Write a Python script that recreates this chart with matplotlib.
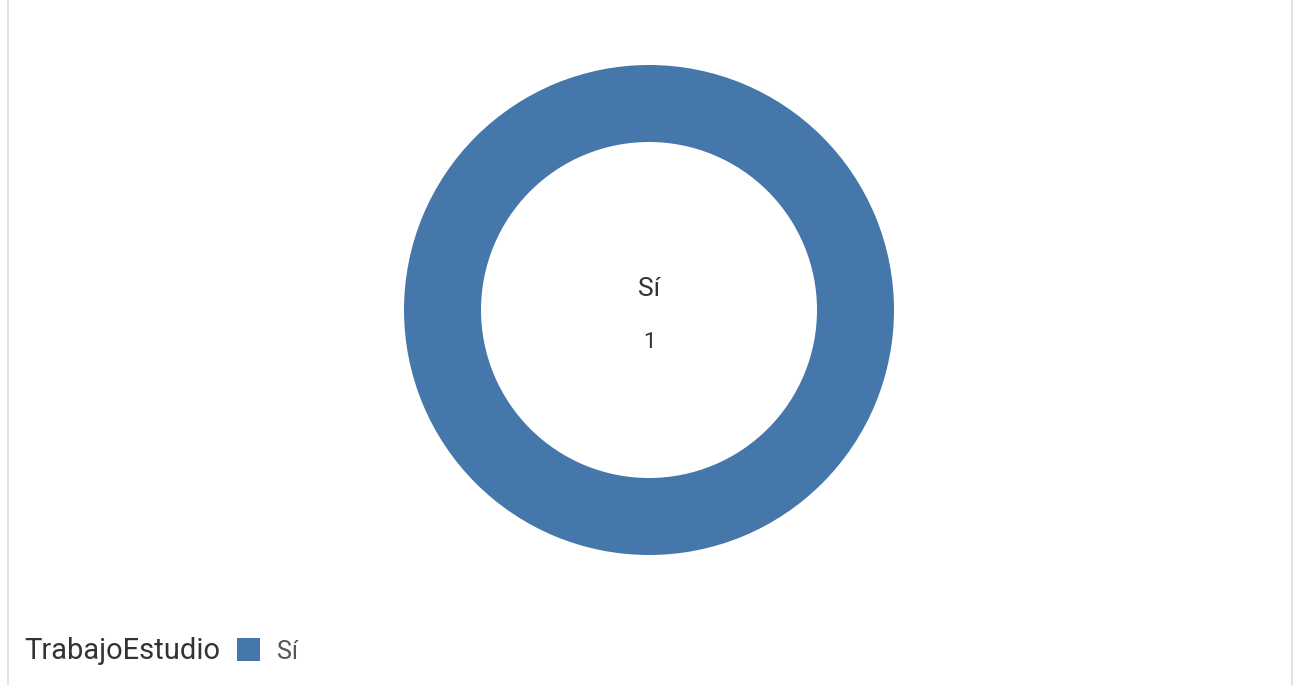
import matplotlib.pyplot as plt

# data
categories = ['Sí']
values = [1]
legend_title = 'TrabajoEstudio'
colors = ['#4577aa']

plt.rcParams['font.family'] = ['Roboto', 'DejaVu Sans']

fig = plt.figure(figsize=(12.93, 6.85), dpi=100)
ax = fig.add_axes([0, 0, 1, 1])

ax.pie(values, colors=colors, center=(649, 310), radius=245, startangle=90,
       counterclock=False, wedgeprops=dict(width=77, linewidth=0))
ax.set_xlim(0, 1293)
ax.set_ylim(685, 0)
ax.set_aspect('equal')
ax.axis('off')

# center label
ax.text(649, 289, categories[0], ha='center', va='center', fontsize=19, color='#333333')
ax.text(649, 342, str(values[0]), ha='center', va='center', fontsize=16, color='#333333')

# frame lines
ax.plot([7.5, 7.5], [0, 685], color='#dddddd', lw=1.2)
ax.plot([1291.5, 1291.5], [0, 685], color='#dddddd', lw=1.2)

# legend
ax.text(24, 651, legend_title, ha='left', va='center', fontsize=21, color='#333333')
ax.add_patch(plt.Rectangle((237, 638), 23, 23, color=colors[0], lw=0))
ax.text(277, 652, categories[0], ha='left', va='center', fontsize=18, color='#555555')

fig.savefig('out.png', dpi=100)
